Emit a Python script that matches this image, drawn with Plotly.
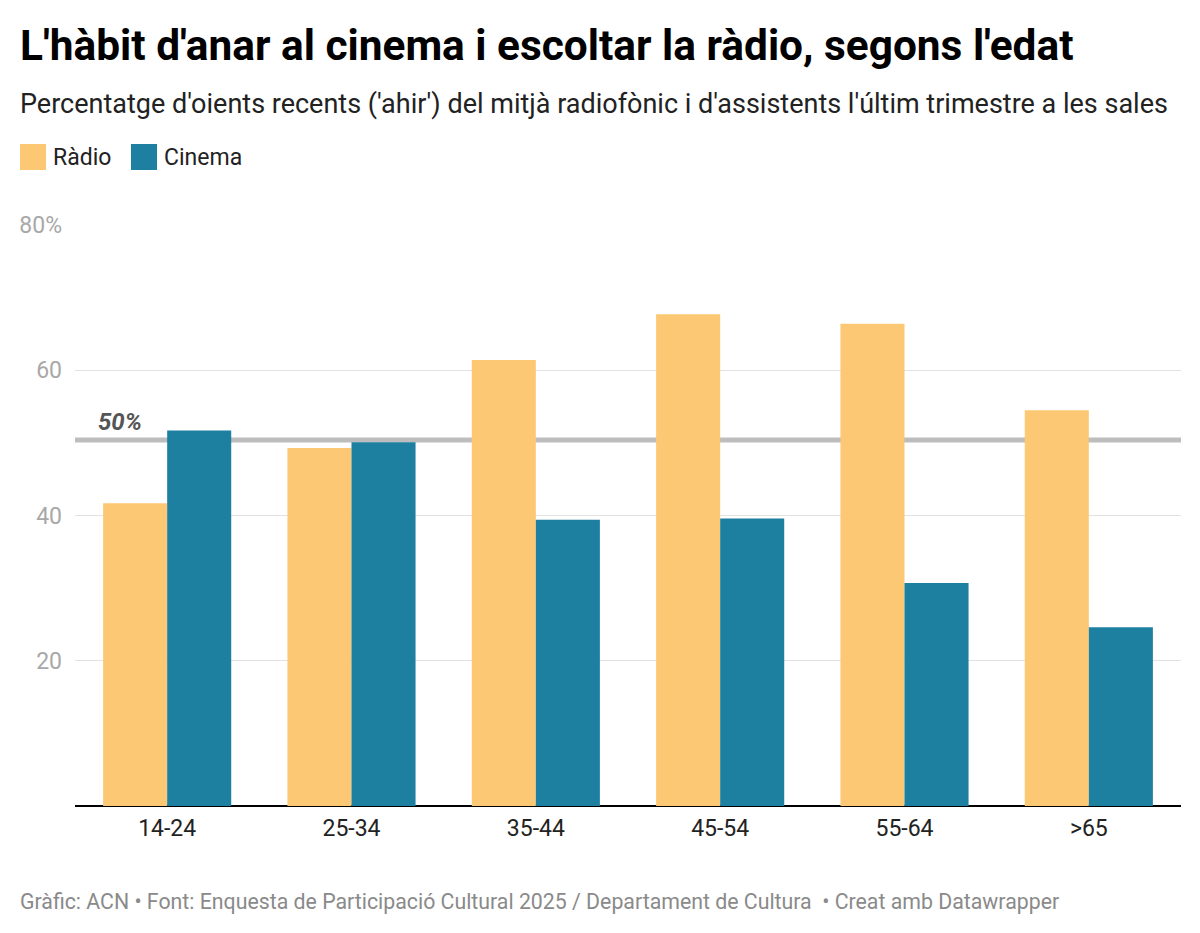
import plotly.graph_objects as go

categories = ["14-24", "25-34", "35-44", "45-54", "55-64", ">65"]
radio = [41.7, 49.3, 61.4, 67.7, 66.4, 54.5]
cinema = [51.7, 50.1, 39.4, 39.6, 30.7, 24.6]
reference_value = 50.4
reference_label = "50%"
y_tickvals = [20, 40, 60, 80]
y_ticktext = ["20", "40", "60", "80%"]

RADIO_COLOR = "#fcc874"
CINEMA_COLOR = "#1d80a1"

W, H = 1200, 933
ML, MR, MT, MB = 75, 19, 225, 127
PW = W - ML - MR
PH = H - MT - MB


def px_x(p):
    return (p - ML) / PW


def px_y(p):
    return (H - MB - p) / PH


fig = go.Figure()
fig.add_trace(go.Bar(x=categories, y=radio, name="Ràdio", marker_color=RADIO_COLOR,
                     marker_line_width=0, showlegend=False))
fig.add_trace(go.Bar(x=categories, y=cinema, name="Cinema", marker_color=CINEMA_COLOR,
                     marker_line_width=0, showlegend=False))

# reference line (behind bars)
fig.add_shape(type="line", xref="paper", yref="y", x0=0, x1=1,
              y0=reference_value, y1=reference_value,
              line=dict(color="#bdbdbd", width=5), layer="below")

annotations = [
    dict(text="<b>L'hàbit d'anar al cinema i escoltar la ràdio, segons l'edat</b>",
         x=px_x(18), y=px_y(45), xanchor="left", yanchor="middle",
         font=dict(family="Roboto", size=42.4, color="#000000")),
    dict(text="Percentatge d'oients recents ('ahir') del mitjà radiofònic i d'assistents l'últim trimestre a les sales",
         x=px_x(18), y=px_y(104), xanchor="left", yanchor="middle",
         font=dict(family="Roboto", size=27, color="#222222")),
    dict(text="Ràdio", x=px_x(51), y=px_y(157), xanchor="left", yanchor="middle",
         font=dict(family="Roboto", size=23, color="#222222")),
    dict(text="Cinema", x=px_x(162), y=px_y(157), xanchor="left", yanchor="middle",
         font=dict(family="Roboto", size=23, color="#222222")),
    dict(text="<b><i>" + reference_label + "</i></b>", x=px_x(96), y=reference_value,
         yref="y", xanchor="left", yanchor="bottom", yshift=2,
         font=dict(family="Roboto", size=24, color="#555555")),
    dict(text="Gràfic: ACN • Font: Enquesta de Participació Cultural 2025 / Departament de Cultura  • Creat amb Datawrapper",
         x=px_x(18), y=px_y(901), xanchor="left", yanchor="middle",
         font=dict(family="Roboto", size=21.3, color="#8a8a8a")),
]
for a in annotations:
    a.setdefault("xref", "paper")
    a.setdefault("yref", "paper")
    a["showarrow"] = False
    fig.add_annotation(**a)

# legend swatches
for x0, col in [(20, RADIO_COLOR), (131, CINEMA_COLOR)]:
    fig.add_shape(type="rect", xref="paper", yref="paper",
                  x0=px_x(x0), x1=px_x(x0 + 26), y0=px_y(170), y1=px_y(144),
                  fillcolor=col, line_width=0)

fig.update_layout(
    width=W, height=H,
    margin=dict(l=ML, r=MR, t=MT, b=MB, pad=0),
    paper_bgcolor="white", plot_bgcolor="white",
    barmode="group", bargap=0.305, bargroupgap=0,
    font=dict(family="Roboto"),
    showlegend=False,
)
fig.update_xaxes(showgrid=False, ticks="", showline=False, ticklabelstandoff=6,
                 tickfont=dict(family="Roboto", size=23, color="#222222"))
fig.update_yaxes(range=[0, 80], tickvals=y_tickvals, ticktext=y_ticktext,
                 showgrid=True, gridcolor="#e2e2e2", gridwidth=1,
                 zeroline=True, zerolinecolor="#000000", zerolinewidth=2,
                 showline=False, ticks="", ticklabelstandoff=12,
                 tickfont=dict(family="Roboto", size=23, color="#a8a8a8"))

fig.write_html("out.html")
